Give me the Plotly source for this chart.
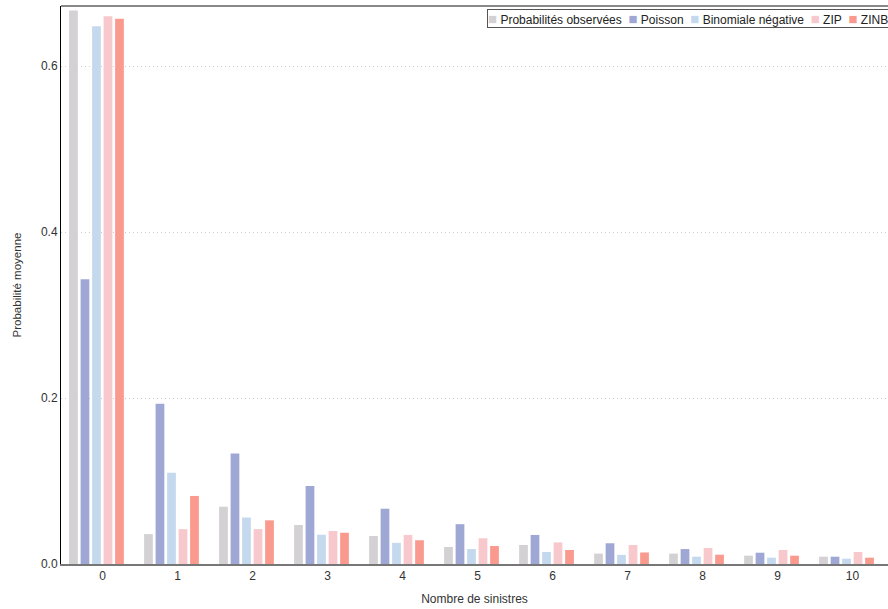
import plotly.graph_objects as go

categories = list(range(11))
series_names = ["Probabilités observées", "Poisson", "Binomiale négative", "ZIP", "ZINB"]
colors = ["#d3d1d4", "#9fa8d4", "#c5d9ee", "#f7c8cc", "#fa9a8e"]

observed = [0.667, 0.036, 0.069, 0.047, 0.0337, 0.0205, 0.0229, 0.0125, 0.0125, 0.0100, 0.0088]
poisson = [0.343, 0.193, 0.133, 0.094, 0.0666, 0.048, 0.035, 0.025, 0.018, 0.0136, 0.0088]
negbin = [0.648, 0.110, 0.056, 0.0353, 0.0255, 0.018, 0.0145, 0.011, 0.0088, 0.0076, 0.0064]
zip_ = [0.660, 0.042, 0.042, 0.0398, 0.035, 0.031, 0.026, 0.0229, 0.0193, 0.0169, 0.0145]
zinb = [0.657, 0.082, 0.0526, 0.0377, 0.0286, 0.0217, 0.0169, 0.0139, 0.0112, 0.0100, 0.0076]
values = [observed, poisson, negbin, zip_, zinb]

font = "Arial, Liberation Sans, sans-serif"
W, H = 888, 609
L, R, T, B = 61, 0, 6, 45

fig = go.Figure()
for name, col, vals in zip(series_names, colors, values):
    fig.add_trace(go.Bar(x=categories, y=vals, name=name, marker_color=col,
                         marker_line_width=0, showlegend=False))

# legend built as a single bordered annotation
parts = []
for name, col in zip(series_names, colors):
    parts.append('<span style="color:%s;font-size:15px">■</span> %s' % (col, name))
legend_text = "&nbsp; ".join(parts)

fig.add_annotation(text=legend_text, xref="paper", yref="paper", x=(487 - L) / (W - L - R),
                   y=1, xanchor="left", yanchor="top", yshift=-3, showarrow=False,
                   font=dict(family=font, size=12, color="#222"), bordercolor="#555",
                   borderwidth=1, borderpad=0, bgcolor="white", align="left")

fig.add_shape(type="line", xref="paper", yref="paper", x0=0, x1=1, y0=1, y1=1,
              line=dict(color="#888", width=2))

fig.update_layout(
    width=W, height=H,
    margin=dict(l=L, r=R, t=T, b=B),
    plot_bgcolor="white", paper_bgcolor="white",
    barmode="group", bargap=0.233, bargroupgap=0.24,
    font=dict(family=font, size=12, color="#333"),
    xaxis=dict(range=[-0.473, 10.553], tickmode="array", tickvals=categories,
               ticktext=[str(c) for c in categories], showgrid=False, zeroline=False,
               showline=True, linecolor="#777", linewidth=2, ticks="", automargin=False,
               ticklabelshift=6,
               title=dict(text="Nombre de sinistres", standoff=12, font=dict(size=12)),
               tickfont=dict(size=12)),
    yaxis=dict(range=[0, 0.6723], tickvals=[0, 0.2, 0.4, 0.6], ticktext=["0.0", "0.2", "0.4", "0.6"],
               showgrid=True, gridcolor="#cccccc", griddash="1px,3px", gridwidth=1,
               zeroline=False, showline=True, linecolor="black", linewidth=1, ticks="",
               ticklabelstandoff=0, automargin=False, tickfont=dict(size=12),
               title=dict(text="Probabilité moyenne", standoff=16, font=dict(size=11.5))),
)

fig.write_html("out.html", config={"displayModeBar": False},
               post_script="document.body.style.margin='0';document.body.style.overflow='hidden';")
